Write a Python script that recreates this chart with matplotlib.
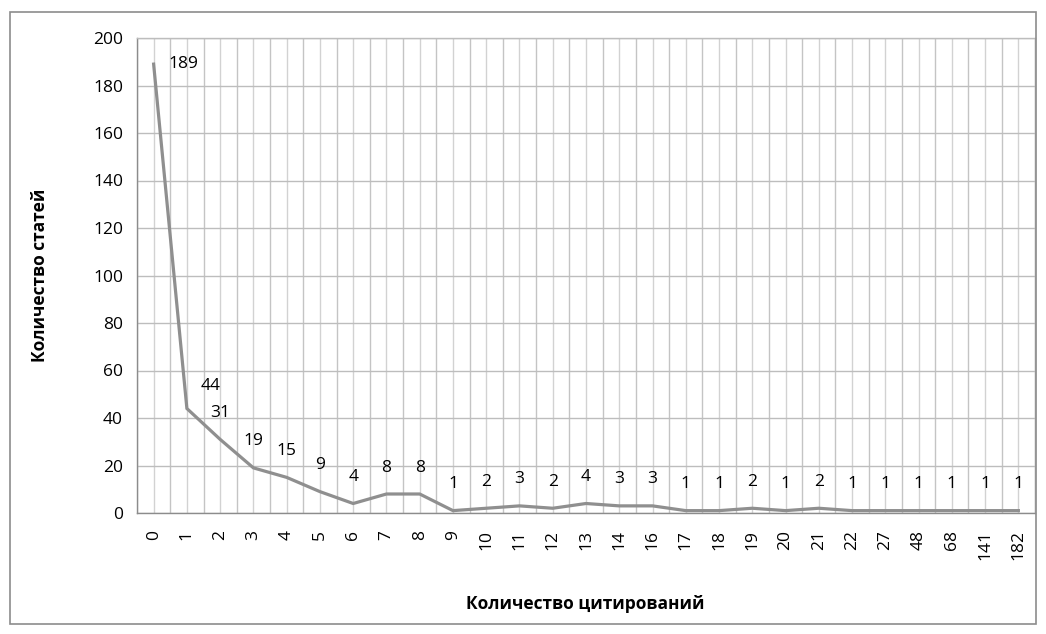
import matplotlib
matplotlib.use("Agg")
import matplotlib.pyplot as plt
from matplotlib.patches import Rectangle

plt.rcParams['font.family'] = ['Open Sans', 'DejaVu Sans']

categories = ["0", "1", "2", "3", "4", "5", "6", "7", "8", "9", "10", "11", "12", "13",
              "14", "16", "17", "18", "19", "20", "21", "22", "27", "48", "68", "141", "182"]
values = [189, 44, 31, 19, 15, 9, 4, 8, 8, 1, 2, 3, 2, 4, 3, 3, 1, 1, 2, 1, 2, 1, 1, 1, 1, 1, 1]
y_ticks = [0, 20, 40, 60, 80, 100, 120, 140, 160, 180, 200]
x_title = "Количество цитирований"
y_title = "Количество статей"

W, H = 1046, 634
fig = plt.figure(figsize=(W / 100, H / 100), dpi=100)
fig.patch.set_facecolor("white")
fig.add_artist(Rectangle((10 / W, 1 - 624 / H), (1036 - 10) / W, (624 - 12) / H,
                         transform=fig.transFigure, fill=False, edgecolor="#8c8c8c", lw=1.2))

ax = fig.add_axes([137 / W, 1 - 513 / H, (1035 - 137) / W, (513 - 38) / H])
n = len(categories)
x = list(range(n))
ax.set_xlim(-0.5, n - 0.5)
ax.set_ylim(0, 200)

# gridlines
for i in range(n + 1):
    ax.axvline(i - 0.5, color="#c4c4c4", lw=1.0, zorder=0)
for i in range(n):
    ax.axvline(i, color="#d2d2d2", lw=1.0, zorder=0)
for t in y_ticks:
    ax.axhline(t, color="#bdbdbd", lw=1.0, zorder=0)

ax.plot(x, values, color="#8f8f8f", lw=2.3, zorder=3, solid_joinstyle="miter")

fs = 12.5
for i, v in enumerate(values):
    if i == 0:
        ax.annotate(str(v), (i, v), xytext=(11, 0), textcoords="offset points",
                    ha="left", va="center", fontsize=fs, color="black")
    elif i == 1:
        ax.annotate(str(v), (i, v), xytext=(17, 16), textcoords="offset points",
                    ha="center", va="center", fontsize=fs, color="black")
    else:
        ax.annotate(str(v), (i, v), xytext=(0, 19), textcoords="offset points",
                    ha="center", va="center", fontsize=fs, color="black")

ax.set_xticks(x)
ax.set_xticklabels(categories, rotation=90, fontsize=fs)
ax.set_yticks(y_ticks)
ax.set_yticklabels([str(t) for t in y_ticks], fontsize=fs)
ax.tick_params(axis="both", length=0, pad=10)
ax.tick_params(axis="x", pad=12)
for s in ax.spines.values():
    s.set_color("#bdbdbd")
    s.set_linewidth(1.0)
ax.spines["bottom"].set_color("#8c8c8c")
ax.spines["left"].set_color("#8c8c8c")

fig.text(585 / W, 1 - 604 / H, x_title, ha="center", va="center", fontsize=12.5, fontweight="bold")
fig.text(40 / W, 1 - 275 / H, y_title, ha="center", va="center", rotation=90,
         fontsize=12.5, fontweight="bold")

fig.savefig("out.png", dpi=100)
